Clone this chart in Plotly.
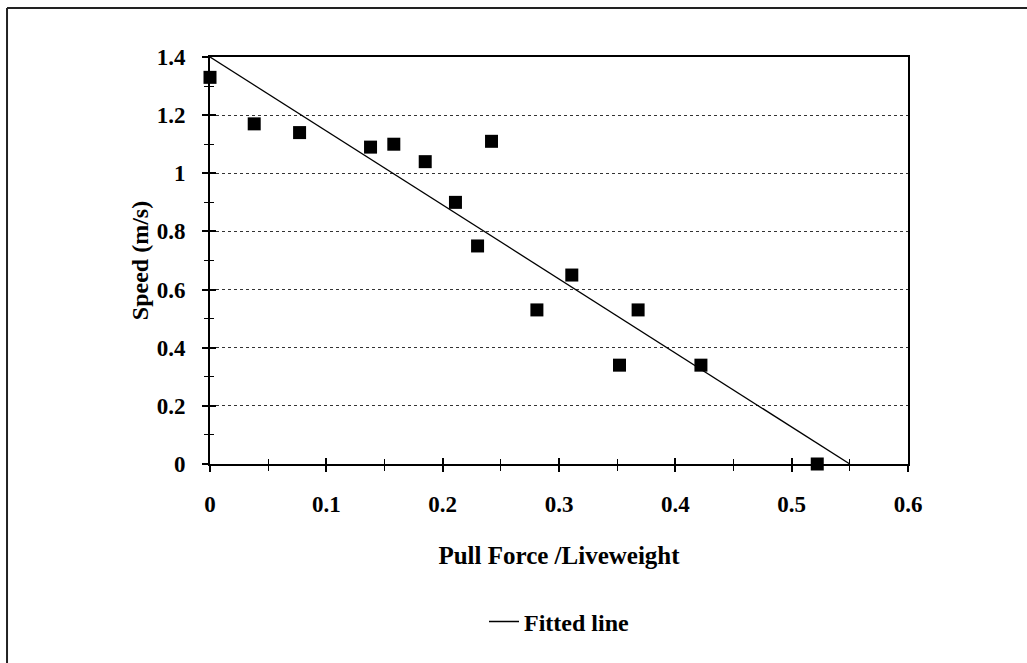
import plotly.graph_objects as go

# Data
pull_force = [0.0, 0.038, 0.077, 0.138, 0.158, 0.185, 0.211, 0.230, 0.242, 0.281, 0.311, 0.352, 0.368, 0.422, 0.522]
speed = [1.33, 1.17, 1.14, 1.09, 1.10, 1.04, 0.90, 0.75, 1.11, 0.53, 0.65, 0.34, 0.53, 0.34, 0.0]

fit_x = [0.0, 0.55]
fit_y = [1.4, 0.0]

x_ticks = [0, 0.1, 0.2, 0.3, 0.4, 0.5, 0.6]
x_tick_labels = ["0", "0.1", "0.2", "0.3", "0.4", "0.5", "0.6"]
y_ticks = [0, 0.2, 0.4, 0.6, 0.8, 1.0, 1.2, 1.4]
y_tick_labels = ["0", "0.2", "0.4", "0.6", "0.8", "1", "1.2", "1.4"]

FONT = "Liberation Serif"

fig = go.Figure()
fig.add_trace(go.Scatter(
    x=pull_force, y=speed, mode="markers", showlegend=False, cliponaxis=False,
    marker=dict(symbol="square", size=13, color="black"),
))
fig.add_trace(go.Scatter(
    x=fit_x, y=fit_y, mode="lines", name="Fitted line", cliponaxis=False,
    line=dict(color="black", width=1.3),
))
# invisible trace on overlay axes for cross-ticks
fig.add_trace(go.Scatter(x=[None], y=[None], xaxis="x2", yaxis="y2", showlegend=False, hoverinfo="skip"))

axis_common = dict(showline=True, linecolor="black", linewidth=2, mirror=True, zeroline=False)

fig.update_layout(
    width=1027, height=663,
    margin=dict(l=210, r=119, t=57, b=199),
    paper_bgcolor="white", plot_bgcolor="white",
    font=dict(family=FONT, color="black"),
    xaxis=dict(
        range=[0, 0.6], tickvals=x_ticks, ticktext=x_tick_labels,
        ticks="outside", ticklen=6, tickwidth=1.5, tickcolor="black",
        minor=dict(dtick=0.05, tick0=0, ticks="outside", ticklen=5, tickwidth=1.2, tickcolor="black"),
        showgrid=False,
        tickfont=dict(family=FONT, size=23, color="black", weight="bold"),
        ticklabelstandoff=12,
        title=dict(text="<b>Pull Force /Liveweight</b>", font=dict(family=FONT, size=25), standoff=31),
        **axis_common,
    ),
    yaxis=dict(
        range=[0, 1.4], tickvals=y_ticks, ticktext=y_tick_labels,
        ticks="outside", ticklen=6, tickwidth=1.5, tickcolor="black",
        minor=dict(dtick=0.1, tick0=0, ticks="outside", ticklen=4, tickwidth=1.2, tickcolor="black", showgrid=False),
        showgrid=True, gridcolor="#333333", griddash="dot", gridwidth=1,
        tickfont=dict(family=FONT, size=23, color="black", weight="bold"),
        ticklabelstandoff=12,
        title=dict(text="<b>Speed (m/s)</b>", font=dict(family=FONT, size=24), standoff=1),
        **axis_common,
    ),
    xaxis2=dict(range=[0, 0.6], overlaying="x", side="bottom", anchor="y", tickvals=x_ticks,
                showticklabels=False, ticks="inside", ticklen=6, tickwidth=1.5, tickcolor="black",
                minor=dict(dtick=0.05, tick0=0, ticks="inside", ticklen=5, tickwidth=1.2, tickcolor="black"),
                showgrid=False, zeroline=False, showline=False),
    yaxis2=dict(range=[0, 1.4], overlaying="y", side="left", anchor="x", tickvals=y_ticks,
                showticklabels=False, ticks="inside", ticklen=6, tickwidth=1.5, tickcolor="black",
                minor=dict(dtick=0.1, tick0=0, ticks="inside", ticklen=4, tickwidth=1.2, tickcolor="black"),
                showgrid=False, zeroline=False, showline=False),
    legend=dict(
        x=0.5, xanchor="center", y=-0.388, yanchor="middle",
        orientation="h", bgcolor="rgba(0,0,0,0)",
        font=dict(family=FONT, size=24, color="black", weight="bold"),
    ),
    shapes=[
        dict(type="line", xref="paper", yref="paper", x0=-0.2908, x1=1.18, y0=1.1204, y1=1.1204,
             line=dict(color="#222222", width=2)),
        dict(type="line", xref="paper", yref="paper", x0=-0.2908, x1=-0.2908, y0=1.1204, y1=-0.5,
             line=dict(color="#222222", width=2)),
    ],
)

fig.write_html("out.html")
